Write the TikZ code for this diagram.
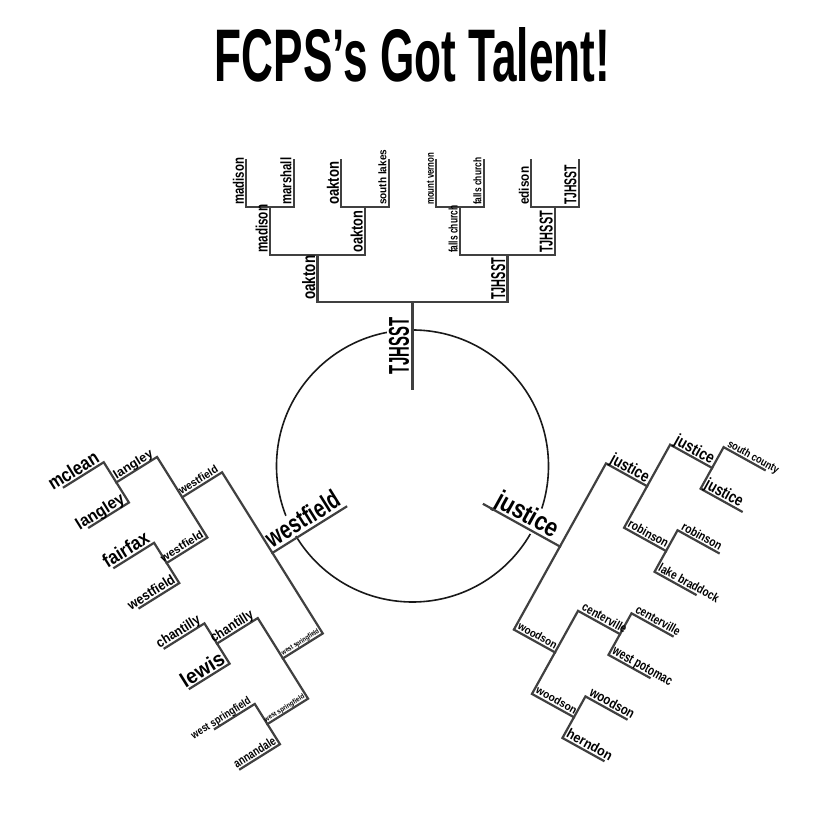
\documentclass[tikz,border=0pt]{standalone}
\usepackage{fontspec}
\setmainfont{Liberation Sans}
\usepackage{graphicx}
\newcommand\brlines{%
  \draw[brline] (0,77) -- (0,164);
  \draw[brline] (-95,211) -- (-95,164) -- (95,164) -- (95,211);
  \draw[brline] (-142.5,259) -- (-142.5,211) -- (-47.5,211) -- (-47.5,259);
  \draw[brline] (47.5,259) -- (47.5,211) -- (142.5,211) -- (142.5,259);
  \foreach \c in {-142.5,-47.5,47.5,142.5}{%
    \draw[brline] ({\c-23.75},306) -- ({\c-23.75},259) -- ({\c+23.75},259) -- ({\c+23.75},306);
  }%
}
\newcommand\lab[6]{\node[lbl] (#1) at ({#2+\lo},#3) {\resizebox{#4pt}{#5pt}{\bfseries #6}};}
\newcommand\stemlab[4]{\node[lblc] (#1) at ({1.5*\lo},120) {\resizebox{#2pt}{#3pt}{\bfseries #4}};}
\begin{document}
\begin{tikzpicture}[x=1pt,y=1pt,
  brline/.style={draw=black!75, line width=2.2pt, line cap=rect, line join=miter},
  circ/.style={draw=black!90, line width=1.6pt}]
\useasboundingbox (0,0) rectangle (828,830);
\fill[white] (0,0) rectangle (828,830);
\node[inner sep=0pt] (title) at (412.5,775) {\resizebox{395pt}{54pt}{\bfseries FCPS’s Got Talent!}};
\draw[circ] (412.5,364) circle (136);

% ---------- top bracket ----------
\begin{scope}[shift={(412.5,364)}]
\def\lo{-2.5}
\tikzset{lbl/.style={transform shape, rotate=90, anchor=base west, inner sep=0pt},
 lblc/.style={transform shape, rotate=90, anchor=base, inner sep=1.5pt, fill=white}}
\stemlab{tS}{57}{20}{TJHSST}
\brlines
\lab{t1}{-166.25}{261}{47}{11}{madison}
\lab{t2}{-118.75}{261}{47}{11}{marshall}
\lab{t3}{-71.25}{261}{43}{12}{oakton}
\lab{t4}{-23.75}{261}{55}{8}{south lakes}
\lab{t5}{23.75}{261}{52}{7}{mount vernon}
\lab{t6}{71.25}{261}{47}{8}{falls church}
\lab{t7}{118.75}{261}{38}{10}{edison}
\lab{t8}{166.25}{261}{40}{12}{TJHSST}
\lab{t9}{-142.5}{213}{48}{12}{madison}
\lab{t10}{-47.5}{213}{42}{12}{oakton}
\lab{t11}{47.5}{213}{47}{9}{falls church}
\lab{t12}{142.5}{213}{42}{13}{TJHSST}
\lab{t13}{-95}{166}{44}{13}{oakton}
\lab{t14}{95}{166}{42}{14}{TJHSST}
\end{scope}

% ---------- left bracket ----------
\begin{scope}[shift={(411.5,364)}, rotate=122]
\def\lo{2.5}
\tikzset{lbl/.style={transform shape, rotate=-90, anchor=base east, inner sep=0pt},
 lblc/.style={transform shape, rotate=-90, anchor=base, inner sep=1.5pt, fill=white}}
\stemlab{lS}{82}{19}{westfield}
\brlines
\lab{l1}{166.25}{261}{56}{14}{mclean}
\lab{l2}{118.75}{261}{54}{12}{langley}
\lab{l3}{71.25}{261}{51}{14}{fairfax}
\lab{l4}{23.75}{261}{53}{10}{westfield}
\lab{l5}{-23.75}{261}{49}{10}{chantilly}
\lab{l6}{-71.25}{261}{48}{15}{lewis}
\lab{l7}{-118.75}{261}{68}{8}{west springfield}
\lab{l8}{-166.25}{261}{47}{9}{annandale}
\lab{l9}{142.5}{213}{44}{9}{langley}
\lab{l10}{47.5}{213}{48}{8}{westfield}
\lab{l11}{-47.5}{213}{48}{10}{chantilly}
\lab{l12}{-142.5}{213}{46}{5}{west springfield}
\lab{l13}{95}{166}{44}{8}{westfield}
\lab{l14}{-95}{166}{43}{5}{west springfield}
\end{scope}

% ---------- right bracket ----------
\begin{scope}[shift={(416.5,363)}, rotate=-119]
\def\lo{-2.5}
\tikzset{lbl/.style={transform shape, rotate=90, anchor=base west, inner sep=0pt},
 lblc/.style={transform shape, rotate=90, anchor=base, inner sep=1.5pt, fill=white}}
\stemlab{rS}{69}{19}{justice}
\brlines
\lab{r1}{-166.25}{261}{57}{8}{south county}
\lab{r2}{-118.75}{261}{41}{12}{justice}
\lab{r3}{-71.25}{261}{44}{9}{robinson}
\lab{r4}{-23.75}{261}{67}{9}{lake braddock}
\lab{r5}{23.75}{261}{49}{9}{centerville}
\lab{r6}{71.25}{261}{66}{9}{west potomac}
\lab{r7}{118.75}{261}{49}{10}{woodson}
\lab{r8}{166.25}{261}{50}{10}{herndon}
\lab{r9}{-142.5}{213}{43}{12}{justice}
\lab{r10}{-47.5}{213}{44}{9}{robinson}
\lab{r11}{47.5}{213}{49}{9}{centerville}
\lab{r12}{142.5}{213}{45}{8}{woodson}
\lab{r13}{-95}{166}{42}{12}{justice}
\lab{r14}{95}{166}{43}{8}{woodson}
\end{scope}
\end{tikzpicture}
\end{document}
